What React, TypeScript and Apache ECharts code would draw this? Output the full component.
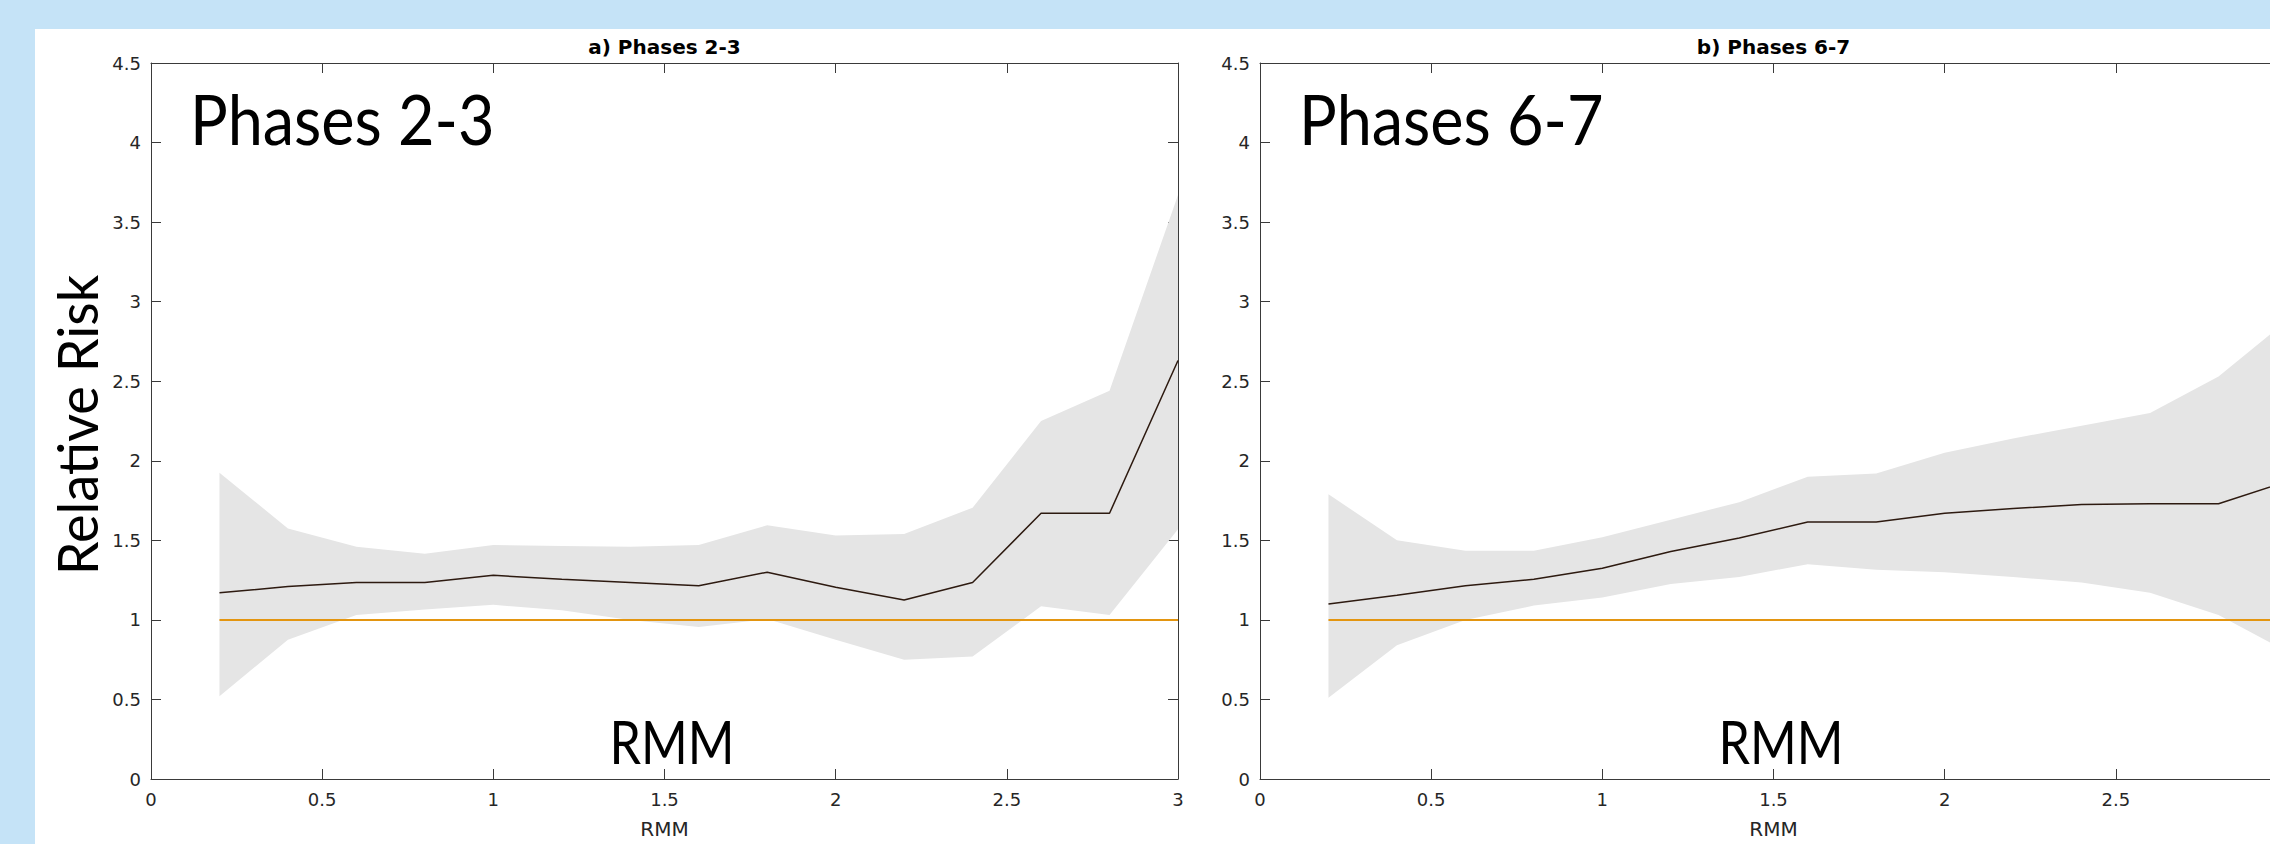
import React, { useEffect, useRef } from "react";
import * as echarts from "echarts";

// ---------- data ----------
const rmm = [0.2, 0.4, 0.6, 0.8, 1.0, 1.2, 1.4, 1.6, 1.8, 2.0, 2.2, 2.4, 2.6, 2.8, 3.0];

// a) Phases 2-3
const meanA = [1.17, 1.21, 1.235, 1.235, 1.28, 1.255, 1.235, 1.215, 1.3, 1.205, 1.125, 1.235, 1.67, 1.67, 2.63];
const upperA = [1.925, 1.575, 1.46, 1.415, 1.47, 1.465, 1.46, 1.47, 1.595, 1.53, 1.54, 1.705, 2.25, 2.44, 3.67];
const lowerA = [0.52, 0.875, 1.03, 1.065, 1.095, 1.06, 1.0, 0.955, 1.005, 0.875, 0.75, 0.77, 1.085, 1.03, 1.57];

// b) Phases 6-7
const meanB = [1.1, 1.155, 1.215, 1.255, 1.325, 1.43, 1.515, 1.615, 1.615, 1.67, 1.7, 1.725, 1.73, 1.73, 1.87];
const upperB = [1.79, 1.5, 1.435, 1.435, 1.52, 1.63, 1.74, 1.9, 1.92, 2.05, 2.14, 2.22, 2.3, 2.53, 2.88];
const lowerB = [0.51, 0.84, 1.0, 1.09, 1.14, 1.225, 1.27, 1.35, 1.315, 1.3, 1.27, 1.235, 1.17, 1.03, 0.8];

const baselineRR = 1;

const xMin = 0;
const xMax = 3;
const xStep = 0.5;
const yMin = 0;
const yMax = 4.5;
const yStep = 0.5;

const panelTitles = ["a) Phases 2-3", "b) Phases 6-7"];
const panelLabels = ["Phases 2-3", "Phases 6-7"];
const xName = "RMM";
const yName = "Relative Risk";

// ---------- styles ----------
const axisColor = "#3a3a3a";
const tickFont = "DejaVu Sans";
const bigFont = "Lato";
const bandColor = "#e5e5e5";
const refColor = "#e39510";
const meanColor = "#2d1a10";

const CHART_W = 2340;
const CHART_H = 844;

const gridBoxes = [
  { left: 151, top: 63, width: 1027, height: 717 },
  { left: 1260, top: 63, width: 1027, height: 717 },
];

function xAxisDef(gridIndex: number, position: "bottom" | "top", main: boolean) {
  return {
    type: "value",
    gridIndex,
    position,
    min: xMin,
    max: xMax,
    interval: xStep,
    axisLine: { show: true, onZero: false, lineStyle: { color: axisColor, width: 1 } },
    axisTick: { show: true, inside: true, length: 10, lineStyle: { color: axisColor, width: 1 } },
    axisLabel: {
      show: main,
      margin: 11,
      fontFamily: tickFont,
      fontSize: 18,
      color: "#262626",
      // the second panel runs past the page edge, so its last label is off-page
      showMaxLabel: gridIndex === 0,
    },
    splitLine: { show: false },
    name: main ? xName : "",
    nameLocation: "middle",
    nameGap: 40,
    nameTextStyle: { fontFamily: tickFont, fontSize: 20, color: "#262626" },
  };
}

function yAxisDef(gridIndex: number, position: "left" | "right", main: boolean) {
  return {
    type: "value",
    gridIndex,
    position,
    min: yMin,
    max: yMax,
    interval: yStep,
    axisLine: { show: true, onZero: false, lineStyle: { color: axisColor, width: 1 } },
    axisTick: { show: true, inside: true, length: 10, lineStyle: { color: axisColor, width: 1 } },
    axisLabel: { show: main, margin: 10, fontFamily: tickFont, fontSize: 18, color: "#262626" },
    splitLine: { show: false },
  };
}

function bandSeries(axisIdx: number, upper: number[], lower: number[]) {
  return {
    type: "custom",
    xAxisIndex: axisIdx,
    yAxisIndex: axisIdx,
    silent: true,
    z: 1,
    data: [[rmm[0], lower[0]]],
    renderItem: (_params: any, api: any) => {
      const pts: number[][] = [];
      for (let i = 0; i < rmm.length; i++) pts.push(api.coord([rmm[i], upper[i]]));
      for (let i = rmm.length - 1; i >= 0; i--) pts.push(api.coord([rmm[i], lower[i]]));
      return { type: "polygon", shape: { points: pts }, style: { fill: bandColor } };
    },
  };
}

function refSeries(axisIdx: number) {
  return {
    type: "line",
    xAxisIndex: axisIdx,
    yAxisIndex: axisIdx,
    symbol: "none",
    silent: true,
    z: 3,
    lineStyle: { color: refColor, width: 2 },
    data: [
      [rmm[0], baselineRR],
      [rmm[rmm.length - 1], baselineRR],
    ],
  };
}

function meanSeries(axisIdx: number, mean: number[]) {
  return {
    type: "line",
    xAxisIndex: axisIdx,
    yAxisIndex: axisIdx,
    symbol: "none",
    silent: true,
    z: 4,
    lineStyle: { color: meanColor, width: 1.5 },
    data: rmm.map((x, i) => [x, mean[i]]),
  };
}

export default function App() {
  const ref = useRef<HTMLDivElement>(null);

  useEffect(() => {
    document.body.style.margin = "0";
    if (!ref.current) return;
    const chart = echarts.init(ref.current, undefined, { renderer: "svg" });

    const graphics: any[] = [];
    gridBoxes.forEach((g, i) => {
      const cx = g.left + g.width / 2;
      graphics.push({
        type: "text",
        x: cx,
        y: 47,
        style: {
          text: panelTitles[i],
          font: `bold 20px "${tickFont}"`,
          fill: "#000",
          align: "center",
          verticalAlign: "middle",
        },
      });
      graphics.push({
        type: "text",
        x: g.left + 39,
        y: 118,
        scaleX: 0.9,
        style: {
          text: panelLabels[i],
          font: `70px "${bigFont}"`,
          fill: "#000",
          align: "left",
          verticalAlign: "middle",
        },
      });
      graphics.push({
        type: "text",
        x: g.left + 521,
        y: 741,
        scaleX: 0.84,
        style: {
          text: xName,
          font: `60px "${bigFont}"`,
          fill: "#000",
          align: "center",
          verticalAlign: "middle",
        },
      });
    });
    graphics.push({
      type: "text",
      x: 76,
      y: 425,
      rotation: Math.PI / 2,
      scaleX: 0.95,
      style: {
        text: yName,
        font: `57px "${bigFont}"`,
        fill: "#000",
        align: "center",
        verticalAlign: "middle",
      },
    });

    chart.setOption({
      animation: false,
      backgroundColor: "transparent",
      grid: gridBoxes.map((g) => ({ ...g, containLabel: false, show: false })),
      xAxis: [
        xAxisDef(0, "bottom", true),
        xAxisDef(0, "top", false),
        xAxisDef(1, "bottom", true),
        xAxisDef(1, "top", false),
      ],
      yAxis: [
        yAxisDef(0, "left", true),
        yAxisDef(0, "right", false),
        yAxisDef(1, "left", true),
        yAxisDef(1, "right", false),
      ],
      series: [
        bandSeries(0, upperA, lowerA),
        refSeries(0),
        meanSeries(0, meanA),
        bandSeries(2, upperB, lowerB),
        refSeries(2),
        meanSeries(2, meanB),
      ],
      graphic: graphics,
    });

    return () => chart.dispose();
  }, []);

  return (
    <div
      style={{
        position: "relative",
        width: 2270,
        height: 844,
        overflow: "hidden",
        background: "#c5e3f7",
      }}
    >
      <div
        style={{
          position: "absolute",
          left: 35,
          top: 29,
          right: 0,
          bottom: 0,
          background: "#ffffff",
        }}
      />
      <div
        ref={ref}
        style={{ position: "absolute", left: 0, top: 0, width: CHART_W, height: CHART_H }}
      />
    </div>
  );
}
